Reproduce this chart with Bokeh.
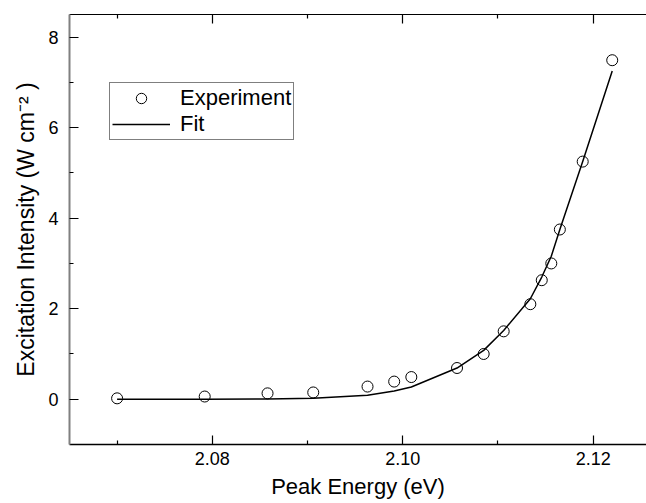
from bokeh.plotting import figure
from bokeh.models import (FixedTicker, LinearAxis, Legend, LegendItem,
                          PrintfTickFormatter, CustomJSTickFormatter, Range1d)
from bokeh.embed import file_html
from bokeh.resources import INLINE

# ---- data ----
exp_energy = [2.0700, 2.0792, 2.0858, 2.0906, 2.0963, 2.0991, 2.1009, 2.1057,
              2.1085, 2.1106, 2.1134, 2.1146, 2.1156, 2.1165, 2.1189, 2.1220]
exp_intensity = [0.02, 0.06, 0.13, 0.15, 0.28, 0.39, 0.49, 0.69,
                 1.00, 1.50, 2.10, 2.63, 3.00, 3.75, 5.25, 7.49]
fit_energy = [2.0700, 2.0792, 2.0858, 2.0906, 2.0963, 2.0991, 2.1009, 2.1057,
              2.1085, 2.1106, 2.1134, 2.1146, 2.1156, 2.1165, 2.1189, 2.1220]
fit_intensity = [0.00, 0.00, 0.005, 0.02, 0.09, 0.18, 0.27, 0.69,
                 1.08, 1.52, 2.22, 2.70, 3.16, 3.75, 5.25, 7.25]
x_major = [2.08, 2.10, 2.12]
x_minor = [2.07, 2.09, 2.11]
y_major = [0, 2, 4, 6, 8]
y_minor = [1, 3, 5, 7]

FONT = "Liberation Sans"

p = figure(width=646, height=503, output_backend="svg", toolbar_location=None,
           x_range=Range1d(2.0650, 2.1256), y_range=Range1d(-1.0, 8.5),
           min_border_left=69, min_border_right=0, min_border_top=14,
           min_border_bottom=59, x_axis_location=None, y_axis_location=None)
p.xgrid.visible = False
p.ygrid.visible = False
p.outline_line_color = None
p.background_fill_color = "white"
p.border_fill_color = "white"

def style_axis(ax, ticks, minor, show_labels):
    ax.ticker = FixedTicker(ticks=ticks, minor_ticks=minor)
    ax.major_tick_in = 9
    ax.major_tick_out = 0
    ax.minor_tick_in = 4
    ax.minor_tick_out = 0
    ax.major_tick_line_color = "black"
    ax.minor_tick_line_color = "black"
    ax.major_tick_line_width = 1.2
    ax.minor_tick_line_width = 1.2
    ax.major_label_text_font = FONT
    ax.major_label_text_font_size = "18px"
    ax.major_label_text_color = "black"
    ax.axis_label_text_font = FONT
    ax.axis_label_text_font_style = "normal"
    ax.axis_label_text_font_size = "22px"
    ax.axis_label_text_color = "black"
    if not show_labels:
        ax.formatter = CustomJSTickFormatter(code="return ''")
        ax.major_label_standoff = 0
        ax.axis_label_standoff = 0
        ax.major_label_text_font_size = "0px"

xb = LinearAxis(axis_label="Peak Energy (eV)")
style_axis(xb, x_major, x_minor, True)
xb.formatter = PrintfTickFormatter(format="%.2f")
xb.major_label_standoff = 7
xb.axis_label_standoff = 6
xb.axis_line_color = "black"
xb.axis_line_width = 1.5
p.add_layout(xb, "below")

yl = LinearAxis(axis_label="Excitation Intensity (W cm\u207b\u00b2 )")
style_axis(yl, y_major, y_minor, True)
yl.axis_label_text_font_size = "23px"
yl.major_label_standoff = 11
yl.axis_label_standoff = 6
yl.axis_line_color = "#808080"
yl.axis_line_width = 2
p.add_layout(yl, "left")

xt = LinearAxis()
style_axis(xt, x_major, x_minor, False)
xt.axis_line_color = "black"
xt.axis_line_width = 1.2
p.add_layout(xt, "above")

fit_r = p.line(fit_energy, fit_intensity, line_color="black", line_width=1.5)
exp_r = p.scatter(exp_energy, exp_intensity, marker="circle", size=11,
                  fill_color=None, line_color="black", line_width=1)

legend = Legend(items=[LegendItem(label="Experiment", renderers=[exp_r]),
                       LegendItem(label="Fit", renderers=[fit_r])],
                location=(40, 304), orientation="vertical")
legend.label_text_font = FONT
legend.label_text_font_size = "22px"
legend.label_text_color = "black"
legend.border_line_color = "black"
legend.border_line_width = 1
legend.background_fill_color = "white"
legend.background_fill_alpha = 1
legend.padding = 2
legend.spacing = 0
legend.margin = 0
legend.glyph_width = 58
legend.glyph_height = 26
legend.label_height = 26
legend.label_standoff = 10
p.add_layout(legend, "center")

open("out.html", "w").write(file_html(p, INLINE))
